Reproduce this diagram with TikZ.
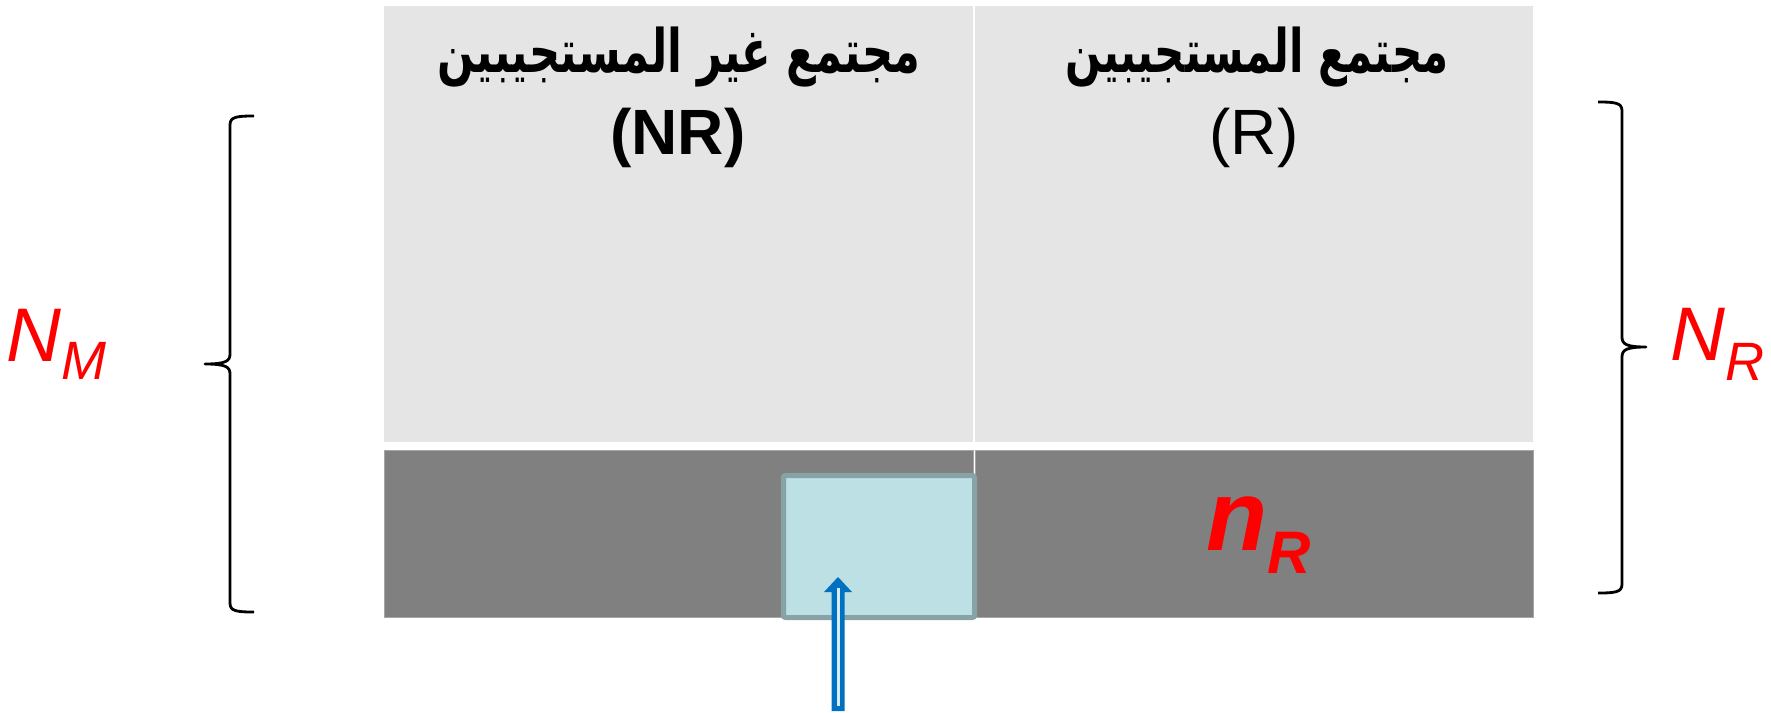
\documentclass[tikz,border=0pt]{standalone}
\usepackage{fontspec}
\setmainfont{Liberation Sans}
\newfontfamily\arabicfont[Script=Arabic]{DejaVu Sans}
\TeXXeTstate=1

\definecolor{cellgray}{HTML}{E5E5E5}
\definecolor{bandgray}{HTML}{808080}
\definecolor{bandedge}{HTML}{A6A6A6}
\definecolor{samplefill}{HTML}{BCE0E4}
\definecolor{sampleedge}{HTML}{87A3A5}
\definecolor{arrowblue}{HTML}{0070C0}
\definecolor{labelred}{HTML}{FF0000}

\begin{document}
\begin{tikzpicture}[x=0.5pt,y=-0.5pt,
  cell/.style={fill=cellgray, draw=none, inner sep=0, outer sep=0},
  band/.style={fill=bandgray, draw=bandedge, line width=0.5pt, inner sep=0, outer sep=0},
  samplebox/.style={fill=samplefill, draw=sampleedge, line width=2.5pt, rounded corners=1pt, inner sep=0},
  title/.style={inner sep=0, anchor=base, font=\arabicfont\bfseries\fontsize{30}{36}\selectfont},
  codebold/.style={inner sep=0, anchor=base, font=\bfseries\fontsize{32}{38}\selectfont},
  coderegular/.style={inner sep=0, anchor=base, font=\fontsize{32}{38}\selectfont},
  sizelabel/.style={inner sep=0, anchor=base west, text=labelred, font=\itshape\fontsize{38}{44}\selectfont},
  bracebar/.style={line width=1.4pt, line join=round},
]
\useasboundingbox (0,0) rectangle (1771,712);

% population cells
\node[cell, minimum width=294.5pt, minimum height=218pt] (nrcell) at (678.5,224) {};
\node[cell, minimum width=279pt, minimum height=218pt] (rcell) at (1254,224) {};

% sample band
\node[band, minimum width=294.5pt, minimum height=83.5pt] (nrband) at (678.5,533.5) {};
\node[band, minimum width=279pt, minimum height=83.5pt] (rband) at (1254,533.5) {};

% sampled non-respondents
\node[samplebox, minimum width=95.5pt, minimum height=71pt] (subsample) at (879,546.5) {};

% headings
\node[title] (nrtitle) at (679,72) {\resizebox{241.5pt}{\height}{\beginR مجتمع غير المستجيبين\endR}};
\node[codebold] (nrcode) at (678,154) {(NR)};
\node[title] (rtitle) at (1257,72) {\resizebox{191.5pt}{\height}{\beginR مجتمع المستجيبين\endR}};
\node[coderegular] (rcode) at (1254,154) {(R)};

% respondents in the sample
\node[inner sep=0, anchor=base west, text=labelred, font=\bfseries\itshape] (nr) at (1206,550)
  {\fontsize{50}{56}\selectfont n\raisebox{-11.5pt}{\fontsize{30}{36}\selectfont R}};

% left brace: whole population of non-respondents
\coordinate (lbtop) at (254,116);
\coordinate (lbbot) at (254,612);
\coordinate (lbtip) at (205,364);
\draw[bracebar] (lbtop) .. controls (236,116) and (230,117) .. (230,125)
  -- (230,354) .. controls (230,361) and (226,364) .. (lbtip)
  .. controls (226,364) and (230,367) .. (230,374)
  -- (230,603) .. controls (230,611) and (236,612) .. (lbbot);
\node[sizelabel] (nm) at (6,361) {N\raisebox{-9pt}{\fontsize{27}{32}\selectfont M}};

% right brace: respondents
\coordinate (rbtop) at (1598,102);
\coordinate (rbbot) at (1598,593);
\coordinate (rbtip) at (1646,347);
\draw[bracebar] (rbtop) .. controls (1616,102) and (1622,103) .. (1622,111)
  -- (1622,337) .. controls (1622,344) and (1626,347) .. (rbtip)
  .. controls (1626,347) and (1622,350) .. (1622,357)
  -- (1622,584) .. controls (1622,592) and (1616,593) .. (rbbot);
\node[sizelabel] (nrlabel) at (1670,360) {N\raisebox{-10pt}{\fontsize{27}{32}\selectfont R}};

% pointer to the subsample
\coordinate (arrowfoot) at (838,711);
\coordinate (arrowtip) at (838,577);
\fill[arrowblue]
  ([xshift=-3.25pt]arrowfoot) -- ([xshift=-3.25pt,yshift=-7.5pt]arrowtip)
  -- ([xshift=-7pt,yshift=-7.5pt]arrowtip) -- (arrowtip)
  -- ([xshift=7pt,yshift=-7.5pt]arrowtip) -- ([xshift=3.25pt,yshift=-7.5pt]arrowtip)
  -- ([xshift=3.25pt]arrowfoot) -- cycle;
\draw[samplefill!60!white, line width=1.5pt]
  ([yshift=-5.5pt]arrowtip) -- ([yshift=2.5pt]arrowfoot);
\end{tikzpicture}
\end{document}
